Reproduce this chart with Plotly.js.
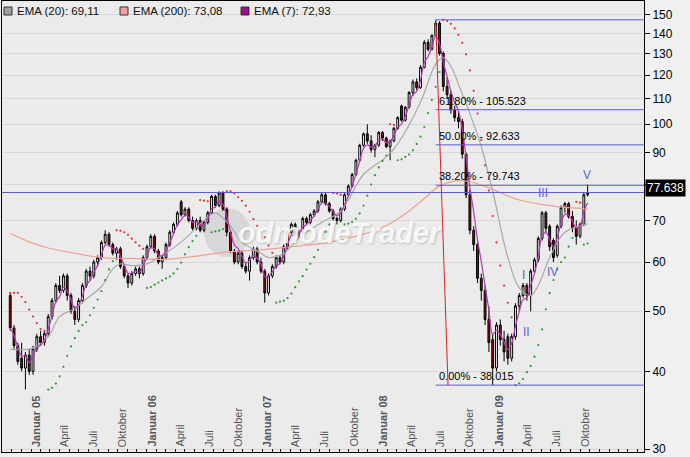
<!DOCTYPE html>
<html><head><meta charset="utf-8">
<script src="https://cdn.plot.ly/plotly-3.0.1.min.js"></script>
<style>html,body{margin:0;padding:0;background:#fff;} #chart{width:690px;height:457px;}</style>
</head><body><div id="chart"></div>
<script>
// ---- data ----
const startDate = '2004-10-27';
const stepDays = 12;
const open  = [53,47,44,42,40.5,42.5,40,43.5,45.5,44.5,46,49,52,55,54,57,53,50,48.5,52,55,58,57,60,61,64.5,66.5,64,62,63,59,57,55.5,57.5,58.5,57.5,61,63.5,66,62.5,60,61,64,67,69,75,71.5,73,70,68,70,67.5,69.5,72,76.5,74,77.5,73,67,62.5,60,62,59,58,61,63,60,58,53.5,57,59,61,60,63.5,67,69,66.5,67,70.5,69.5,71.5,72.5,75,77,74.5,72.5,70.5,70,73,77,79.5,83,87.5,92.5,96.5,94,91,92.5,97,95,92,94,98.5,107,101.5,106.5,112.5,117,114.5,123.5,135.5,132,139,145.5,130,115,111.5,105.5,102.5,101,89.5,77,67.5,64,56.5,54,48.5,45,40.5,47.5,45,45.5,42,45.5,51,53,55,53,58,60.5,65.5,72,68.5,65,61.5,68.5,73.5,74.5,71,68,66,69,77];
const high  = [53.5,47.5,44.5,44.5,43,43.5,44,46,46.5,46.5,49.5,52.5,55.5,57,57.5,57.5,53.5,51,52.5,55.5,58.5,59,60.5,61.5,65,67.5,67,64.5,63.5,63.5,59.5,57.5,58,59,59,61.5,64,66.5,66.5,63,61.5,64.5,67.5,69.5,72.5,75.5,73.5,73.5,71,70.5,71,70,72.5,77,77,78,78,73.5,67.5,63,62.5,62.5,60,61.5,63.5,63.5,61,58.5,57.5,59.5,61.5,61.5,64,67.5,69.5,69.5,67.5,71,71,72,73,75.5,77.5,77.5,75,73,71,73.5,77.5,80,83.5,88,93,97,100,96,93,97.5,97.5,95.5,94.5,99,103,107.5,107,113,118,118.5,124.5,136.5,137,139.5,147.251,146.5,131,119,113,107,105,102,90,78.5,68.5,64.5,57.5,55,51,46,48,48.5,46.5,46,46,51.5,53.5,55.5,55.5,58.5,61,66,72.5,72.5,69,65.5,69,74,75,75,72.5,70,69.5,77.5,80];
const low   = [46.5,43.5,41,40,37.4,39.5,39.5,43,44,44,45.5,48.5,51.5,53.5,53.5,52,49.5,47.5,48,51.5,54.5,56,56.5,59,60.5,64,63.5,61.5,60.5,58.5,56.5,54.5,55,57,56.5,57,60.5,63,62,59.5,58.5,60.5,63.5,66.5,68.5,71,71,69.5,67.5,67.5,67,67,69,71.5,73.5,73.5,72.5,66,62,59.5,59.5,58.5,57.5,56,60.5,59.5,57.5,51.6,53,56.5,58.5,59.5,59.5,63,66.5,66,65.5,66.5,69,69,71,72,74.5,74,72,70,69,69.5,72.5,76.5,79,82.5,87,92,93,90,88.5,92,94,91.5,87.5,93.5,98,101,101,106,111,113.5,114,123,131,131.5,138.5,129,113,110,104,101,98.5,88,76,66.5,62.5,55.5,52,47.5,43,38.015,40,44,41.5,41,41.5,45,50,52.5,52,50,57.5,60,65,67,62.5,60,61,68,72,70.5,67,64,65.5,68.5,76.5];
const close = [47,44,41.5,40.5,42.5,40,43.5,45.5,44.5,46,49,52,55,54,57,53,50,48.5,52,55,58,57,60,61,64.5,66.5,64,62,63,59,57,55.5,57.5,58.5,57.5,61,63.5,66,62.5,60,61,64,67,69,72,71.5,73,70,68,70,67.5,69.5,72,76.5,74,77.5,73,67,62.5,60,62,59,58,61,63,60,58,53.5,57,59,61,60,63.5,67,69,66.5,67,70.5,69.5,71.5,72.5,75,77,74.5,72.5,70.5,70,73,77,79.5,83,87.5,92.5,96.5,94,91,92.5,97,95,92,94,98.5,102.5,101.5,106.5,112.5,117,114.5,123.5,135.5,132,139,145.5,130,115,111.5,105.5,102.5,101,89.5,77,67.5,64,56.5,54,48.5,44.5,40.5,47.5,45,43,42,45.5,51,53,55,53,58,60.5,65.5,72,68,63.5,61,68.5,73.5,74.5,71,68,66,69,77,77.638];

// EMA(20) (grey) and EMA(200) (salmon) at candle indices
const ema20Idx = [0,6,10,13,17,20,24,27,29,32,36,39,45,51,54,58,61,66,68,72,76,82,87,93,99,102,108,112,114,116,118,121,124,127,131,134,137,139,142,146,152];
const ema20Val = [43.4,43.6,45.5,49,50.5,52.3,54.8,58.5,59.6,59.2,59.6,61,64.6,70,72,68.5,64.6,62,61,62,65.6,69.5,72.5,83,88.6,93,108.5,125,128,124,116,104,92,78,61,54.5,53,55,61,67,69.11];
const ema200Idx = [0,6,10,15,24,32,40,48,57,66,74,82,89,97,103,108,113,117,121,126,134,143,152];
const ema200Val = [66.7,64.3,63.2,62.3,61,60.8,60.6,61.2,62.3,62.8,63.5,64.3,65.5,67.8,71,75,79.5,81,80.8,79,75.5,73.8,73.08];
const ema7Smoothing = 0.45;

const legendNames = ['EMA (20): 69,11','EMA (200): 73,08','EMA (7): 72,93'];
const fibRatios = [0, 0.382, 0.5, 0.618, 1];
const fibHigh = 147.251, fibLow = 38.015;
const redLineEnd = '2008-08-10';
const waveLabels = ['I','II','III','IV','V'];
const waveDates = ['2009-04-04','2009-04-16','2009-06-06','2009-07-07','2009-10-23'];
const waveValues = [57.2,46.3,77.5,57.8,82.9];
const monthDates = ['2005-01-15','2005-04-15','2005-07-15','2005-10-15','2006-01-15','2006-04-15','2006-07-15','2006-10-15','2007-01-15','2007-04-15','2007-07-15','2007-10-15','2008-01-15','2008-04-15','2008-07-15','2008-10-15','2009-01-15','2009-04-15','2009-07-15','2009-10-15'];
const monthText = ['Januar 05','April','Juli','Oktober','Januar 06','April','Juli','Oktober','Januar 07','April','Juli','Oktober','Januar 08','April','Juli','Oktober','Januar 09','April','Juli','Oktober'];
const yTicks = [30,40,50,60,70,80,90,100,110,120,130,140,150];

// ---- build ----
const FONT = 'Liberation Sans, Arial, sans-serif';
const d0 = new Date(startDate + 'T00:00:00Z');
const dates = close.map((_, i) => new Date(d0.getTime() + i*stepDays*86400000).toISOString().slice(0,10));

function ema(vals, a){ const out=[]; let e=vals[0]; vals.forEach((v,i)=>{ e = i===0? v : e + a*(v-e); out.push(e);}); return out; }
function computeSar(h, l, stepAf, maxAf){
  const n=h.length, sar=new Array(n).fill(null), up=new Array(n).fill(false);
  let isUp=false, af=stepAf, ep=l[0], s=h[0]; sar[0]=s;
  for(let i=1;i<n;i++){
    let nx = s + af*(ep-s);
    if(isUp){
      nx = Math.min(nx, l[i-1], i>1? l[i-2]:l[i-1]);
      if(l[i] < nx){ isUp=false; nx=ep; ep=l[i]; af=stepAf; }
      else if(h[i] > ep){ ep=h[i]; af=Math.min(af+stepAf,maxAf); }
    } else {
      nx = Math.max(nx, h[i-1], i>1? h[i-2]:h[i-1]);
      if(h[i] > nx){ isUp=true; nx=ep; ep=h[i]; af=stepAf; }
      else if(l[i] < ep){ ep=l[i]; af=Math.min(af+stepAf,maxAf); }
    }
    s=nx; sar[i]=s; up[i]=isUp;
  }
  return {sar, up};
}
const ps = computeSar(high, low, 0.02, 0.2);
const ema7 = ema(close, ema7Smoothing);

const peakIdx = high.indexOf(Math.max(...high));
const peakDate = dates[peakIdx];
const xEnd = '2010-04-21';
const px = x => (x-2)/642, py = y => (452-y)/451;

const traces = [
  {type:'candlestick', x:dates, open, high, low, close,
   increasing:{line:{color:'#000',width:1}, fillcolor:'#ffffff'},
   decreasing:{line:{color:'#000',width:1}, fillcolor:'#8b1212'},
   whiskerwidth:0, hoverinfo:'skip', showlegend:false},
  {type:'scatter', mode:'lines', x:ema200Idx.map(i=>dates[i]), y:ema200Val, line:{color:'#f0a090',width:1.2,shape:'spline'}, hoverinfo:'skip'},
  {type:'scatter', mode:'lines', x:ema20Idx.map(i=>dates[i]), y:ema20Val, line:{color:'#aaaaaa',width:1.2,shape:'spline'}, hoverinfo:'skip'},
  {type:'scatter', mode:'lines', x:dates, y:ema7, line:{color:'#b23ab2',width:1.2,shape:'spline'}, hoverinfo:'skip'},
  {type:'scatter', mode:'markers', x:dates, y:ps.sar.map((v,i)=> ps.up[i]? null : v), marker:{color:'#e03030',size:2.2}, hoverinfo:'skip'},
  {type:'scatter', mode:'markers', x:dates, y:ps.sar.map((v,i)=> ps.up[i]? v : null), marker:{color:'#2e9a2e',size:2.2}, hoverinfo:'skip'}
];

const shapes = [];
const annotations = [];
// watermark (drawn first, below everything)
shapes.push({type:'circle', xref:'paper', yref:'paper', x0:px(204), x1:px(250), y0:py(257), y1:py(208), fillcolor:'rgba(195,195,195,0.5)', line:{width:0}, layer:'below'});
annotations.push({xref:'paper', yref:'paper', x:px(236), y:py(233), xanchor:'left', yanchor:'middle', text:'odmodeTrader', showarrow:false,
  font:{family:FONT,size:29,color:'rgba(255,255,255,0.85)',weight:'bold',style:'italic',shadow:'1px 1px 2px rgba(140,140,140,0.55)'}});
// Fibonacci levels
fibRatios.forEach(r => {
  const lv = fibLow + r*(fibHigh-fibLow);
  shapes.push({type:'line', xref:'x', yref:'y', x0:peakDate, x1:xEnd, y0:lv, y1:lv, line:{color:'#5c5cd6',width:1}});
  if (r < 1) annotations.push({xref:'x', yref:'y', x:peakDate, y:Math.log10(lv), xanchor:'left', yanchor:'bottom', yshift:1, xshift:1,
    text:(r*100).toFixed(2)+'% - '+lv.toFixed(3), showarrow:false, font:{family:FONT,size:11,color:'#000'}});
});
// last price line
const last = close[close.length-1];
shapes.push({type:'line', xref:'paper', yref:'y', x0:0, x1:1, y0:last, y1:last, line:{color:'#5c5cd6',width:1}});
annotations.push({xref:'paper', yref:'y', x:1, y:Math.log10(last), xanchor:'left', yanchor:'middle', yshift:5, xshift:1,
  text:last.toFixed(3), showarrow:false, bgcolor:'#000', font:{family:FONT,size:12,color:'#fff'}, borderpad:1});
// red fib drag line
shapes.push({type:'line', xref:'x', yref:'y', x0:peakDate, y0:fibHigh, x1:redLineEnd, y1:fibLow, line:{color:'#e02020',width:1}});
// wave labels
waveLabels.forEach((t,i)=> annotations.push({xref:'x', yref:'y', x:waveDates[i], y:Math.log10(waveValues[i]), text:t, showarrow:false,
  font:{family:FONT,size:12,color:'#6060d8'}}));
// month labels
monthText.forEach((t,i)=> annotations.push({xref:'x', yref:'paper', x:monthDates[i], y:py(449), yanchor:'bottom', textangle:-90,
  text: t.startsWith('Januar') ? '<b>'+t+'</b>' : t, showarrow:false, font:{family:FONT,size:11,color:'#555'}}));
// legend
const legColors = ['#a0a0a0','#f0a0a0','#a0108a'];
const legX = [4,120,241];
legendNames.forEach((t,i)=>{
  shapes.push({type:'rect', xref:'paper', yref:'paper', x0:px(legX[i]), x1:px(legX[i]+8), y0:py(15), y1:py(7), fillcolor:legColors[i], line:{color:'#333',width:1}});
  annotations.push({xref:'paper', yref:'paper', x:px(legX[i]+11), y:py(11), xanchor:'left', yanchor:'middle', text:t, showarrow:false,
    font:{family:FONT,size:11.5,color:'#111'}});
});

const layout = {
  width:690, height:457, margin:{l:2,r:46,t:1,b:5},
  paper_bgcolor:'#f0f0f0', plot_bgcolor:'#ebebeb', showlegend:false, hovermode:false,
  font:{family:FONT},
  xaxis:{type:'date', range:['2004-10-01', xEnd], showgrid:false, ticks:'inside', ticklen:3, tickcolor:'#000',
    dtick:'M1', tick0:'2005-01-01', showticklabels:false, showline:true, linecolor:'#000', mirror:true, zeroline:false,
    rangeslider:{visible:false}},
  yaxis:{type:'log', side:'right', range:[Math.log10(29.67), Math.log10(157.9)], tickvals:yTicks, ticktext:yTicks.map(String),
    ticks:'outside', ticklen:5, tickcolor:'#000', tickfont:{family:FONT,size:12,color:'#000'}, gridcolor:'#d8d8d8',
    showline:true, linecolor:'#000', mirror:true, zeroline:false},
  shapes, annotations
};
Plotly.newPlot('chart', traces, layout, {staticPlot:true, displayModeBar:false});
</script>
</body></html>
